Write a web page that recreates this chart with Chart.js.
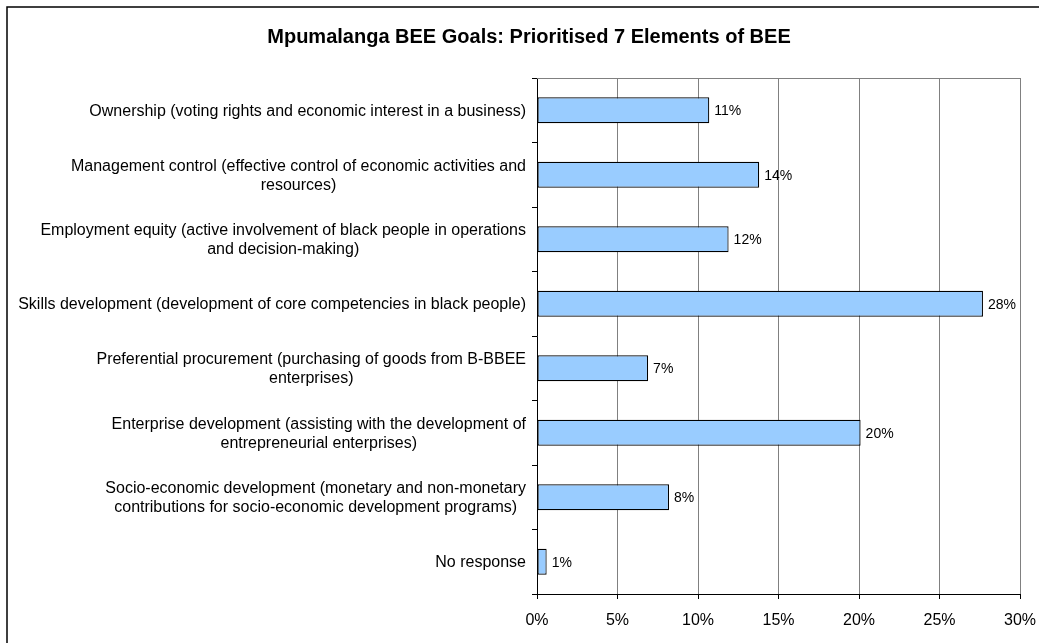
<!DOCTYPE html>
<html>
<head>
<meta charset="utf-8">
<title>Mpumalanga BEE Goals</title>
<script src="https://cdn.jsdelivr.net/npm/chart.js@4/dist/chart.umd.min.js"></script>
<style>
  body { margin: 0; background: #fff; }
  canvas { display: block; }
</style>
</head>
<body>
<canvas id="beeChart" width="1039" height="643"></canvas>
<script>
const FONT = "Arial, 'Liberation Sans', sans-serif";

// one entry per category, each split into the lines it is drawn on
const categories = [
  ["Ownership (voting rights and economic interest in a business)"],
  ["Management control (effective control of economic activities and", "resources)"],
  ["Employment equity (active involvement of black people in operations", "and decision-making)"],
  ["Skills development (development of core competencies in black people)"],
  ["Preferential procurement (purchasing of goods from B-BBEE", "enterprises)"],
  ["Enterprise development (assisting with the development of", "entrepreneurial enterprises)"],
  ["Socio-economic development (monetary and non-monetary", "contributions for socio-economic development programs)"],
  ["No response"]
];
const shares = [10.7, 13.8, 11.9, 27.7, 6.9, 20.1, 8.2, 0.6];
const xTicks = [0, 5, 10, 15, 20, 25, 30];

// white page with the frame line on the top and left
const framePlugin = {
  id: "frame",
  beforeDraw(chart) {
    const ctx = chart.ctx;
    ctx.save();
    ctx.fillStyle = "#fff";
    ctx.fillRect(0, 0, chart.width, chart.height);
    ctx.strokeStyle = "#000";
    ctx.lineWidth = 1.5;
    ctx.beginPath();
    ctx.moveTo(7, chart.height + 5);
    ctx.lineTo(7, 7);
    ctx.lineTo(chart.width + 5, 7);
    ctx.stroke();
    ctx.restore();
  },
  beforeDatasetsDraw(chart) {
    // grey line closing the top of the plot area
    const { ctx, chartArea } = chart;
    ctx.save();
    ctx.strokeStyle = "#808080";
    ctx.lineWidth = 1;
    ctx.beginPath();
    ctx.moveTo(chartArea.left, chartArea.top + 0.5);
    ctx.lineTo(chartArea.right, chartArea.top + 0.5);
    ctx.stroke();
    ctx.restore();
  }
};

// category names: block right-aligned against the axis, lines centred in the block
const categoryLabels = {
  id: "categoryLabels",
  afterDraw(chart) {
    const { ctx } = chart;
    const yScale = chart.scales.y;
    const right = chart.chartArea.left - 11;
    const lineH = 19;
    ctx.save();
    ctx.font = "16px " + FONT;
    ctx.fillStyle = "#000";
    ctx.textAlign = "center";
    ctx.textBaseline = "middle";
    categories.forEach((lines, i) => {
      const w = Math.max(...lines.map(l => ctx.measureText(l).width));
      const cx = right - w / 2;
      const cy = yScale.getPixelForValue(i) + 1;
      lines.forEach((line, j) => {
        ctx.fillText(line, cx, cy + (j - (lines.length - 1) / 2) * lineH);
      });
    });
    ctx.restore();
  }
};

// percentage next to the end of each bar
const valueLabels = {
  id: "valueLabels",
  afterDatasetsDraw(chart) {
    const { ctx } = chart;
    const meta = chart.getDatasetMeta(0);
    ctx.save();
    ctx.font = "14px " + FONT;
    ctx.fillStyle = "#000";
    ctx.textAlign = "left";
    ctx.textBaseline = "middle";
    meta.data.forEach((bar, i) => {
      ctx.fillText(Math.round(shares[i]) + "%", bar.x + 5, bar.y + 1);
    });
    ctx.restore();
  }
};

new Chart(document.getElementById("beeChart"), {
  type: "bar",
  data: {
    labels: categories.map(l => l.join(" ")),
    datasets: [{
      data: shares,
      backgroundColor: "#99CCFF",
      borderColor: "#000",
      borderWidth: 1.2,
      borderSkipped: false,
      categoryPercentage: 1,
      barPercentage: 0.4
    }]
  },
  options: {
    indexAxis: "y",
    responsive: false,
    animation: false,
    devicePixelRatio: 1,
    layout: { padding: { left: 38, right: 19, top: 0, bottom: 0 } },
    plugins: {
      legend: { display: false },
      tooltip: { enabled: false },
      title: {
        display: true,
        text: "Mpumalanga BEE Goals: Prioritised 7 Elements of BEE",
        color: "#000",
        font: { family: FONT, size: 20, weight: "bold", lineHeight: 1.2 },
        padding: { top: 25, bottom: 29 }
      }
    },
    scales: {
      x: {
        min: 0,
        max: 30,
        afterBuildTicks(scale) {
          scale.ticks = xTicks.map(v => ({ value: v }));
        },
        afterFit(scale) {
          scale.height = 49;
          scale.paddingLeft = 0;
          scale.paddingRight = 0;
        },
        grid: { color: "#808080", tickColor: "#000", tickLength: 5, lineWidth: 1 },
        border: { color: "#000", width: 1 },
        ticks: {
          color: "#000",
          padding: 12,
          font: { family: FONT, size: 16 },
          callback: v => v + "%"
        }
      },
      y: {
        afterFit(scale) { scale.width = 499; },
        grid: { drawOnChartArea: false, drawTicks: true, tickLength: 5, tickColor: "#000", offset: true },
        border: { color: "#000", width: 1 },
        ticks: { display: false }
      }
    }
  },
  plugins: [framePlugin, categoryLabels, valueLabels]
});
</script>
</body>
</html>
